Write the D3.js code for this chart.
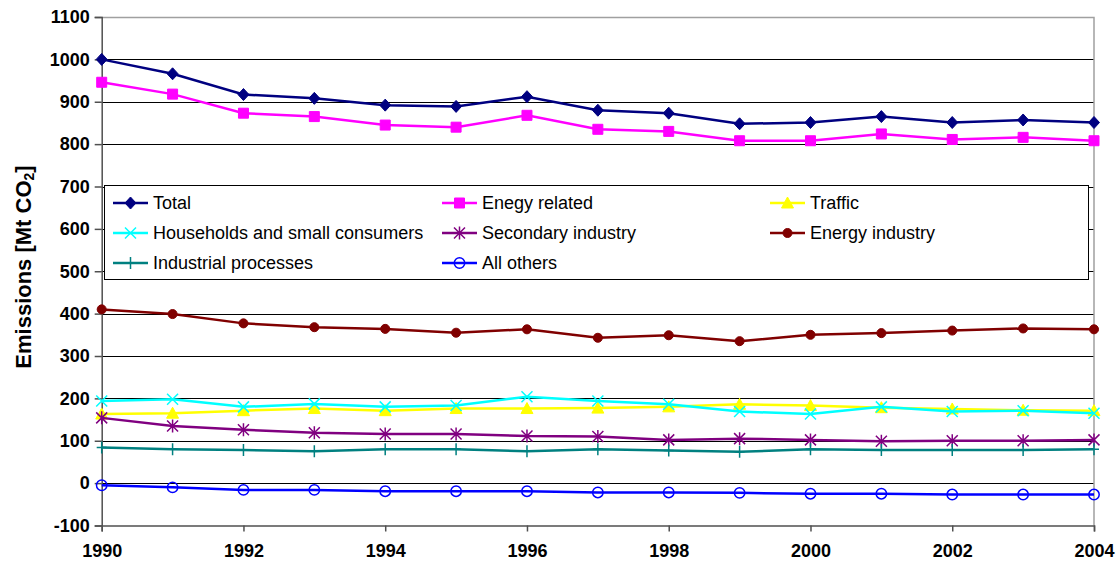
<!DOCTYPE html>
<html>
<head>
<meta charset="utf-8">
<script src="https://cdn.jsdelivr.net/npm/d3@7"></script>
<style>
  body { margin: 0; background: #fff; }
  svg { display: block; font-family: "Liberation Sans", Arial, sans-serif; }
</style>
</head>
<body>
<script>
// data (Mt CO2)
var years = [1990,1991,1992,1993,1994,1995,1996,1997,1998,1999,2000,2001,2002,2003,2004]
var total = [1000,966,917,908,892,889,912,880,873,848,851,865,851,857,851]
var energyRelated = [946,918,873,865,845,840,868,835,830,808,808,824,811,816,808]
var traffic = [163,165,171,176,171,176,176,177,180,186,183,178,175,172,171]
var households = [194,198,180,187,180,183,204,194,186,169,163,180,169,171,165]
var secondary = [154,135,126,119,116,116,111,110,102,105,102,99,100,100,102]
var energyIndustry = [410,399,377,368,364,355,363,343,349,335,350,354,360,365,363]
var industrial = [84,80,78,75,80,80,75,80,77,74,80,78,78,78,80]
var allOthers = [-5,-10,-16,-16,-19,-19,-19,-22,-22,-23,-25,-25,-27,-27,-27]
var yTicks = [-100,0,100,200,300,400,500,600,700,800,900,1000,1100]
var xTicks = [1990,1992,1994,1996,1998,2000,2002,2004]

var width = 1117
var height = 565

// marker shapes drawn as paths around 0,0
var shapes = {
  diamond: "M0,-6L5.5,0L0,6L-5.5,0Z",
  square: "M-5,-5H5V5H-5Z",
  triangle: "M0,-6L6,5L-6,5Z",
  times: "M-5.5,-5.5L5.5,5.5M-5.5,5.5L5.5,-5.5",
  asterisk: "M-5.5,-5.5L5.5,5.5M-5.5,5.5L5.5,-5.5M0,-6.5V6.5",
  plus: "M0,-6V6M-5,0H5",
  dot: d3.symbol(d3.symbolCircle, 64)(),
  ring: d3.symbol(d3.symbolCircle, 85)()
}

var series = [
  {name: "Total", values: total, color: "#000080", shape: "diamond", fill: true},
  {name: "Enegy related", values: energyRelated, color: "#ff00ff", shape: "square", fill: true},
  {name: "Traffic", values: traffic, color: "#ffff00", shape: "triangle", fill: true},
  {name: "Households and small consumers", values: households, color: "#00ffff", shape: "times", fill: false},
  {name: "Secondary industry", values: secondary, color: "#800080", shape: "asterisk", fill: false},
  {name: "Energy industry", values: energyIndustry, color: "#800000", shape: "dot", fill: true},
  {name: "Industrial processes", values: industrial, color: "#008080", shape: "plus", fill: false},
  {name: "All others", values: allOthers, color: "#0000ff", shape: "ring", fill: false}
]

var x = d3.scaleLinear().domain([1990, 2004]).range([101.7, 1094])
var y = d3.scaleLinear().domain([-100, 1100]).range([525.5, 17])

var svg = d3.select("body").append("svg")
  .attr("width", width)
  .attr("height", height)

// grid lines
svg.append("g")
  .selectAll("line")
  .data(yTicks.filter(function(d) { return d > -100 && d < 1100 }))
  .enter().append("line")
  .attr("x1", x(1990)).attr("x2", x(2004))
  .attr("y1", function(d) { return Math.round(y(d)) + 0.5 })
  .attr("y2", function(d) { return Math.round(y(d)) + 0.5 })
  .attr("stroke", "#000")
  .attr("stroke-width", 1)

// plot frame top and right
svg.append("path")
  .attr("d", "M" + x(1990) + "," + (Math.round(y(1100)) + 0.5) + "H" + x(2004) + "V" + y(-100))
  .attr("fill", "none")
  .attr("stroke", "#a0a0a0")
  .attr("stroke-width", 1.5)

// axes
var ejeY = d3.axisLeft(y).tickValues(yTicks).tickFormat(function(d) { return String(d) }).tickSize(7).tickPadding(5)
var gy = svg.append("g")
  .attr("transform", "translate(" + x(1990) + ",0)")
  .call(ejeY)
gy.select(".domain").attr("stroke", "#505050").attr("stroke-width", 1.5)
gy.selectAll(".tick line").attr("stroke", "#505050").attr("stroke-width", 1.5)
gy.selectAll(".tick text")
  .attr("font-family", "Liberation Sans, Arial, sans-serif")
  .attr("font-size", 18).attr("font-weight", "bold").attr("fill", "#000")

var ejeX = d3.axisBottom(x).tickValues(xTicks).tickFormat(function(d) { return String(d) }).tickSize(6).tickPadding(13)
var gx = svg.append("g")
  .attr("transform", "translate(0," + y(-100) + ")")
  .call(ejeX)
gx.select(".domain").attr("stroke", "#505050").attr("stroke-width", 1.5)
gx.selectAll(".tick line").attr("stroke", "#505050").attr("stroke-width", 1.5)
gx.selectAll(".tick text")
  .attr("font-family", "Liberation Sans, Arial, sans-serif")
  .attr("font-size", 18).attr("font-weight", "bold").attr("fill", "#000")

// y axis title
var title = svg.append("text")
  .attr("transform", "translate(31,267) rotate(-90)")
  .attr("text-anchor", "middle")
  .attr("font-size", 22)
  .attr("font-weight", "bold")
title.append("tspan").text("Emissions [Mt CO")
title.append("tspan").attr("font-size", 14).attr("dy", 3).text("2")
title.append("tspan").attr("dy", -3).text("]")

// lines and markers
var line = d3.line()
  .x(function(d, i) { return x(years[i]) })
  .y(function(d) { return y(d) })

function drawMarker(sel, s) {
  sel.attr("d", shapes[s.shape])
    .attr("fill", s.fill ? s.color : "none")
    .attr("stroke", s.color)
    .attr("stroke-width", s.fill ? 1 : 1.5)
}

series.forEach(function(s) {
  svg.append("path")
    .datum(s.values)
    .attr("fill", "none")
    .attr("stroke", s.color)
    .attr("stroke-width", 2.5)
    .attr("d", line)

  svg.append("g")
    .selectAll("path")
    .data(s.values)
    .enter().append("path")
    .attr("transform", function(d, i) { return "translate(" + x(years[i]) + "," + y(d) + ")" })
    .call(drawMarker, s)
})

// legend
var leg = svg.append("g")
leg.append("rect")
  .attr("x", 104.5).attr("y", 185.5)
  .attr("width", 984).attr("height", 94)
  .attr("fill", "#fff")
  .attr("stroke", "#000")
  .attr("stroke-width", 1)

var colX = [113, 442, 770]
var rowY = [203, 233, 263]

series.forEach(function(s, i) {
  var lx = colX[i % 3]
  var ly = rowY[Math.floor(i / 3)]
  leg.append("line")
    .attr("x1", lx).attr("x2", lx + 35)
    .attr("y1", ly).attr("y2", ly)
    .attr("stroke", s.color)
    .attr("stroke-width", 2.5)
  leg.append("path")
    .attr("transform", "translate(" + (lx + 17.5) + "," + ly + ")")
    .call(drawMarker, s)
  leg.append("text")
    .attr("x", lx + 40).attr("y", ly)
    .attr("dy", "0.35em")
    .attr("font-size", 18)
    .text(s.name)
})
</script>
</body>
</html>
